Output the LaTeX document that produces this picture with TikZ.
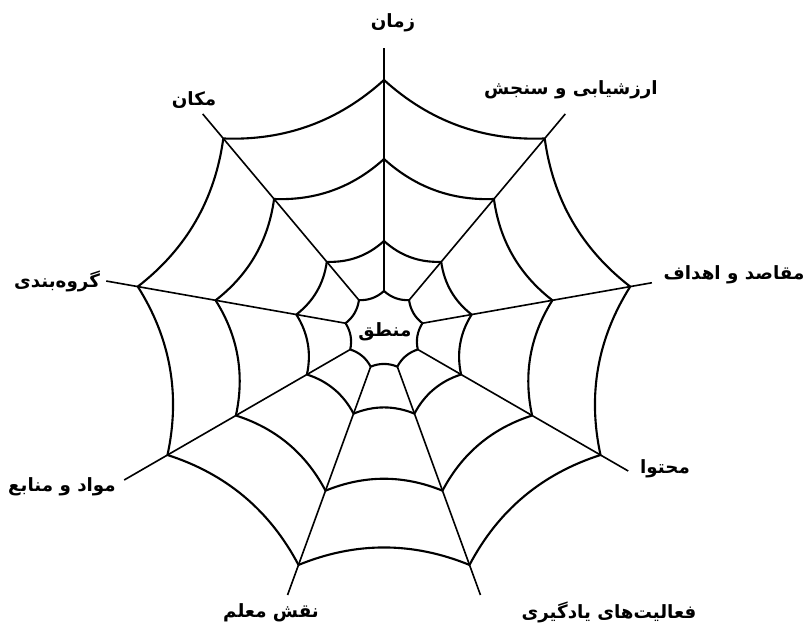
\documentclass[tikz,border=0pt]{standalone}
\usepackage{fontspec}
\newfontfamily\fafont[Script=Arabic]{DejaVu Sans}
\TeXXeTstate=1
\usepackage{tikz}
\usetikzlibrary{calc}

\begin{document}
\begin{tikzpicture}[
      x=0.025cm, y=0.025cm,
      thread/.style={line width=1.5pt},
      spoke/.style={line width=1.15pt},
      every node/.style={font=\fafont\bfseries\fontsize{13}{15}\selectfont, inner sep=0pt}
    ]
      \useasboundingbox (-384,-300) rectangle (422,330);

      \foreach \k in {0,...,8} {
        \foreach \r [count=\i] in {39,89,171,250} {
          \coordinate (v\k-\i) at ({90-40*\k}:\r);
          \coordinate (q\k-\i) at ({70-40*\k}:{0.8*\r});
        }
        \coordinate (e\k) at ({90-40*\k}:282);
      }
      \coordinate (e2) at (10:272);
      \coordinate (e6) at (-150:300);

      \foreach \k in {0,...,8} {
        \pgfmathtruncatemacro{\n}{mod(\k+1,9)}
        \draw[spoke] (v\k-1) -- (e\k);
        \foreach \i in {1,...,4}
          \draw[thread] (v\k-\i) .. controls ($(v\k-\i)!0.667!(q\k-\i)$)
            and ($(v\n-\i)!0.667!(q\k-\i)$) .. (v\n-\i);
      }

      \node (zaman)   at (9,307)     {\beginR زمان\endR};
      \node (arzesh)  at (187,240)   {\beginR ارزشیابی و سنجش\endR};
      \node (maqased) at (350,55)    {\beginR مقاصد و اهداف\endR};
      \node (mohtava) at (281,-139)  {\beginR محتوا\endR};
      \node (faaliat) at (225,-282)  {\beginR فعالیت‌های یادگیری\endR};
      \node (naqsh)   at (-113,-283) {\beginR نقش معلم\endR};
      \node (mavad)   at (-322,-157) {\beginR مواد و منابع\endR};
      \node (goruh)   at (-327,49)   {\beginR گروه‌بندی\endR};
      \node (makan)   at (-190,230)  {\beginR مکان\endR};
      \node (manteq)  at (1,-2)      {\beginR منطق\endR};
    \end{tikzpicture}
\end{document}
